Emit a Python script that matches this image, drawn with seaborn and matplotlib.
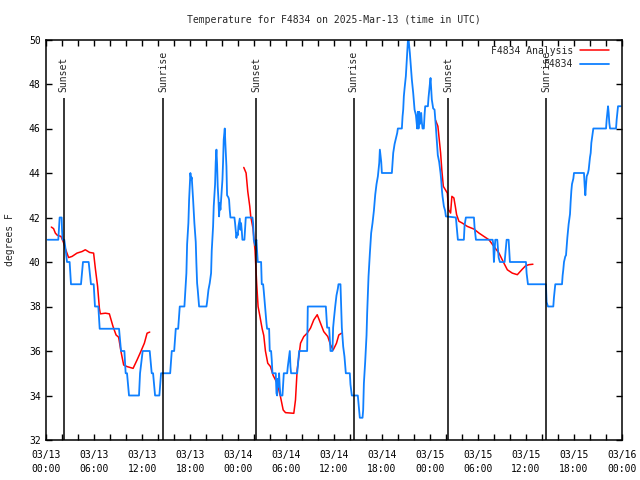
import numpy as np
import pandas as pd
import matplotlib
matplotlib.use("Agg")
import matplotlib.pyplot as plt
import matplotlib.dates as mdates
import seaborn as sns

# ------ Dados (horas desde 2025-03-13 00:00 UTC) ------ #

# Observações da estação F4834
obs_hours = [0.17, 1.50, 1.59, 1.67, 1.92, 1.96, 2.04, 2.25, 2.42, 2.59, 2.92, 3.09, 4.34, 4.59, 5.30,
             5.59, 5.93, 6.09, 6.51, 6.68, 9.10, 9.35, 9.77, 9.93, 10.10, 10.35, 11.60, 11.73, 12.06,
             12.94, 13.19, 13.36, 13.61, 14.15, 14.36, 15.50, 15.70, 16.00, 16.20, 16.50, 16.70, 17.28,
             17.45, 17.53, 17.62, 17.78, 17.87, 17.95, 18.03, 18.12, 18.20, 18.28, 18.37, 18.45, 18.53,
             18.70, 18.78, 18.87, 18.95, 19.12, 20.04, 20.12, 20.29, 20.45, 20.62, 20.70, 20.87, 20.95,
             21.12, 21.20, 21.29, 21.37, 21.45, 21.54, 21.62, 21.70, 21.79, 21.87, 22.04, 22.12, 22.20,
             22.33, 22.41, 22.54, 22.62, 22.79, 22.87, 22.95, 23.04, 23.54, 23.62, 23.70, 23.79, 23.87,
             23.96, 24.04, 24.21, 24.29, 24.37, 24.46, 24.54, 24.79, 24.87, 24.96, 25.80, 25.88, 25.96,
             26.13, 26.29, 26.38, 26.46, 26.88, 26.96, 27.13, 27.21, 27.30, 27.38, 27.46, 27.55, 27.63,
             27.88, 27.96, 28.13, 28.21, 28.30, 28.71, 28.80, 28.88, 28.96, 29.05, 29.13, 29.21, 29.30,
             29.55, 29.63, 29.72, 30.14, 30.22, 30.38, 30.47, 30.55, 30.63, 31.39, 31.47, 31.64, 32.64,
             32.72, 34.98, 35.06, 35.14, 35.39, 35.48, 35.56, 35.81, 35.89, 35.98, 36.15, 36.31, 36.48,
             36.56, 36.81, 36.90, 36.98, 37.15, 37.31, 37.48, 37.98, 38.06, 38.23, 38.98, 39.15, 39.23,
             39.57, 39.65, 39.74, 39.90, 40.07, 40.15, 40.32, 40.49, 40.65, 40.82, 40.99, 41.16, 41.32,
             41.49, 41.66, 41.74, 41.91, 41.99, 43.24, 43.33, 43.41, 43.58, 43.74, 43.91, 43.99, 44.49,
             44.58, 44.66, 44.74, 44.83, 44.99, 45.08, 45.16, 45.24, 45.33, 45.41, 45.49, 45.58, 45.74,
             45.91, 46.08, 46.25, 46.33, 46.41, 46.49, 46.58, 46.66, 46.74, 46.83, 46.91, 46.99, 47.08,
             47.24, 47.33, 47.41, 47.75, 47.83, 47.91, 47.99, 48.08, 48.16, 48.24, 48.41, 48.58, 48.66,
             48.74, 48.83, 48.99, 49.16, 49.33, 49.41, 49.50, 49.58, 49.75, 49.91, 50.00, 51.25, 51.34,
             51.42, 51.50, 52.25, 52.34, 52.50, 53.51, 53.59, 53.76, 55.85, 55.93, 56.01, 56.10, 56.18,
             56.43, 56.51, 56.60, 56.76, 57.35, 57.51, 57.60, 57.85, 57.93, 58.01, 60.02, 60.10, 60.27,
             62.52, 62.60, 62.77, 63.44, 63.52, 63.69, 64.53, 64.61, 64.69, 64.78, 64.94, 65.03, 65.11,
             65.20, 65.28, 65.36, 65.53, 65.61, 65.70, 65.78, 65.95, 66.03, 67.28, 67.37, 67.45, 67.53,
             67.62, 67.78, 67.87, 68.03, 68.12, 68.20, 68.37, 68.45, 70.04, 70.12, 70.20, 70.29, 70.37,
             70.45, 70.54, 71.29, 71.37, 71.54, 71.88]
obs_temp = [41.0, 41.0, 41.5, 42.0, 42.0, 41.5, 41.0, 41.0, 40.55, 40.0, 40.0, 39.0, 39.0, 40.0, 40.0,
            39.0, 39.0, 38.0, 38.0, 37.0, 37.0, 36.0, 36.0, 35.0, 35.0, 34.0, 34.0, 35.0, 36.0,
            36.0, 35.0, 35.0, 34.0, 34.0, 35.0, 35.0, 36.0, 36.0, 37.0, 37.0, 38.0, 38.0,
            39.0, 39.5, 40.8, 41.75, 42.8, 43.4, 44.0, 43.7, 43.8, 43.35, 42.8, 42.3, 41.75,
            40.9, 39.95, 39.05, 38.75, 38.0, 38.0, 38.2, 38.75, 39.05, 39.5, 40.5, 41.6, 42.5,
            43.5, 44.5, 45.05, 44.4, 43.4, 42.8, 42.05, 42.65, 42.35, 42.8, 43.7, 44.5, 45.5,
            46.0, 45.3, 44.3, 43.0, 42.9, 42.8, 42.35, 42.0, 42.0, 41.75, 41.45, 41.08, 41.3,
            41.2, 41.6, 41.95, 41.45, 41.75, 41.4, 41.0, 41.0, 41.5, 42.0, 42.0, 41.75, 41.0,
            40.75, 41.0, 40.5, 40.0, 40.0, 39.0, 39.0, 38.7, 38.3, 37.95, 37.55, 37.25, 37.0,
            37.0, 36.0, 36.0, 35.6, 35.0, 35.0, 34.1, 34.0, 34.75, 34.4, 35.0, 34.4, 34.0,
            34.0, 34.5, 35.0, 35.0, 35.3, 35.75, 36.0, 35.3, 35.0, 35.0, 35.3, 36.0, 36.0,
            38.0, 38.0, 37.5, 37.05, 37.05, 36.5, 36.0, 36.0, 37.05, 37.4, 38.0, 38.5, 38.8,
            39.0, 39.0, 38.0, 37.05, 36.2, 35.75, 35.0, 35.0, 34.5, 34.0, 34.0, 33.35, 33.0,
            33.0, 33.35, 34.55, 35.5, 36.7, 37.7, 39.35, 40.4, 41.3, 41.75, 42.3, 43.03, 43.5,
            43.85, 44.45, 45.05, 44.5, 44.0, 44.0, 44.45, 44.9, 45.3, 45.55, 45.8, 46.0, 46.0,
            46.55, 46.85, 47.45, 47.8, 48.35, 48.95, 49.4, 49.9, 50.0, 49.7, 49.4, 48.95, 48.2,
            47.6, 46.85, 46.6, 46.28, 46.0, 46.75, 46.0, 46.75, 46.2, 46.6, 46.7, 46.28, 46.0,
            46.0, 46.6, 47.0, 47.0, 47.4, 47.7, 47.98, 48.27, 47.8, 47.3, 46.9, 46.85, 46.5,
            46.1, 45.65, 44.8, 44.5, 44.0, 43.7, 43.25, 42.95, 42.5, 42.3, 42.05, 42.0, 41.65,
            41.3, 41.0, 41.0, 41.65, 42.0, 42.0, 41.55, 41.0, 41.0, 40.8, 40.0, 40.5, 41.0,
            41.0, 40.65, 40.2, 40.0, 40.0, 40.65, 41.0, 41.0, 40.5, 40.0, 40.0, 39.5, 39.0,
            39.0, 38.2, 38.0, 38.0, 38.4, 39.0, 39.0, 39.4, 39.65, 40.0, 40.25, 40.3, 40.7,
            41.1, 41.4, 41.7, 42.15, 42.7, 43.2, 43.5, 43.75, 44.0, 44.0, 43.4, 43.0, 43.45,
            43.85, 44.0, 44.15, 44.7, 44.9, 45.35, 45.8, 46.0, 46.0, 46.4, 46.7, 47.0, 46.7,
            46.25, 46.0, 46.0, 46.4, 47.0, 47.0]

# Análise F4834 (três trechos)
ana1_hours = [0.63, 0.91, 1.13, 1.38, 1.84, 2.13, 2.38, 2.79, 3.22, 3.84, 4.47, 4.88, 5.42, 5.92, 6.14,
              6.42, 6.64, 6.76, 7.39, 7.89, 8.35, 8.73, 9.05, 9.35, 9.68, 10.10, 10.86, 11.36, 11.77,
              12.27, 12.61, 12.94]
ana1_temp = [41.57, 41.5, 41.3, 41.2, 41.15, 40.9, 40.6, 40.2, 40.25, 40.4, 40.47, 40.55, 40.43, 40.4, 39.7,
             38.9, 37.93, 37.67, 37.7, 37.67, 37.1, 36.72, 36.62, 35.97, 35.37, 35.3, 35.22, 35.6, 35.93,
             36.35, 36.8, 36.85]
ana2_hours = [24.71, 25.00, 25.21, 25.46, 25.58, 25.87, 26.12, 26.33, 26.50, 26.71, 27.01, 27.21, 27.42,
              27.71, 28.05, 28.39, 28.89, 29.30, 29.64, 29.93, 30.97, 31.18, 31.39, 31.81, 32.22, 32.64,
              33.06, 33.47, 33.90, 34.31, 34.72, 35.22, 35.56, 35.90, 36.31, 36.60, 36.94]
ana2_temp = [44.25, 44.0, 43.17, 42.5, 42.05, 41.5, 40.5, 39.0, 38.0, 37.6, 37.0, 36.7, 36.0,
             35.45, 35.3, 34.9, 34.55, 33.95, 33.35, 33.23, 33.2, 33.8, 35.15, 36.35, 36.65, 36.8,
             37.03, 37.4, 37.63, 37.25, 36.87, 36.65, 36.28, 36.05, 36.35, 36.72, 36.8]
ana3_hours = [48.71, 49.00, 49.17, 49.34, 49.50, 49.68, 49.93, 50.18, 50.34, 50.59, 50.75, 51.00, 51.18,
              51.34, 51.63, 52.05, 52.68, 53.51, 54.14, 54.76, 55.39, 56.01, 56.64, 57.26, 57.69, 58.31,
              58.94, 59.57, 59.98, 60.39, 60.89]
ana3_temp = [46.37, 46.1, 45.5, 44.9, 44.1, 43.4, 43.25, 43.1, 42.35, 42.2, 42.95, 42.88, 42.5,
             42.13, 41.83, 41.75, 41.6, 41.48, 41.3, 41.15, 41.0, 40.7, 40.4, 39.95, 39.65, 39.5,
             39.43, 39.68, 39.83, 39.88, 39.9]

# Nascer e pôr do sol
sun_hours = [2.17, 14.61, 26.23, 38.48, 50.25, 62.52]
sun_labels = ["Sunset", "Sunrise", "Sunset", "Sunrise", "Sunset", "Sunrise"]

# ------ Gráfico ------ #

base = pd.Timestamp("2025-03-13 00:00")

def to_time(hours):
    return base + pd.to_timedelta(hours, unit="h")

sns.set_theme(style="ticks")
plt.rcParams["font.family"] = ["DejaVu Sans Mono"]

fig = plt.figure(figsize=(6.4, 4.8), dpi=100)
ax = fig.add_axes([46.3 / 640, 40 / 480, 575.4 / 640, 400.5 / 480])

red = "#ff0000"
blue = "#0f80ff"

for i, (h, t) in enumerate([(ana1_hours, ana1_temp), (ana2_hours, ana2_temp), (ana3_hours, ana3_temp)]):
    sns.lineplot(x=to_time(h), y=t, ax=ax, color=red, linewidth=1.1,
                 label="F4834 Analysis" if i == 0 else None)
sns.lineplot(x=to_time(obs_hours), y=obs_temp, ax=ax, color=blue, linewidth=1.3, label="F4834")

# Linhas de nascer/pôr do sol
for h, lab in zip(sun_hours, sun_labels):
    t = to_time(h)
    ax.vlines(t, 32, 47.35, color="black", linewidth=1.1)
    ax.text(t, 47.62, lab, rotation=90, ha="center", va="bottom", fontsize=7)

ax.set_xlim(base, to_time(72))
ax.set_ylim(32, 50)
ax.set_yticks(np.arange(32, 51, 2))
ax.xaxis.set_major_locator(mdates.HourLocator(byhour=[0, 6, 12, 18]))
ax.xaxis.set_minor_locator(mdates.HourLocator(interval=2))
ax.xaxis.set_major_formatter(mdates.DateFormatter("%m/%d\n%H:%M"))

ax.tick_params(axis="both", which="both", direction="in", length=4, width=1,
               top=True, right=True, labelsize=7, colors="black", pad=4)
ax.tick_params(axis="x", which="major", pad=7)
for lbl in ax.get_xticklabels():
    lbl.set_linespacing(1.5)
for s in ax.spines.values():
    s.set_linewidth(1.1)
    s.set_color("black")

ax.set_title("Temperature for F4834 on 2025-Mar-13 (time in UTC)", fontsize=7, pad=12)
ax.set_ylabel("degrees F", fontsize=7, labelpad=10)
ax.set_xlabel("")

ax.legend(loc="upper right", bbox_to_anchor=(1 - 3.5 / 575, 1 + 2.5 / 400),
          frameon=False, markerfirst=False, fontsize=7,
          handlelength=3.0, handletextpad=0.7, labelspacing=0.35,
          borderaxespad=0.5, borderpad=0.4)

fig.savefig("out.png", dpi=100)
